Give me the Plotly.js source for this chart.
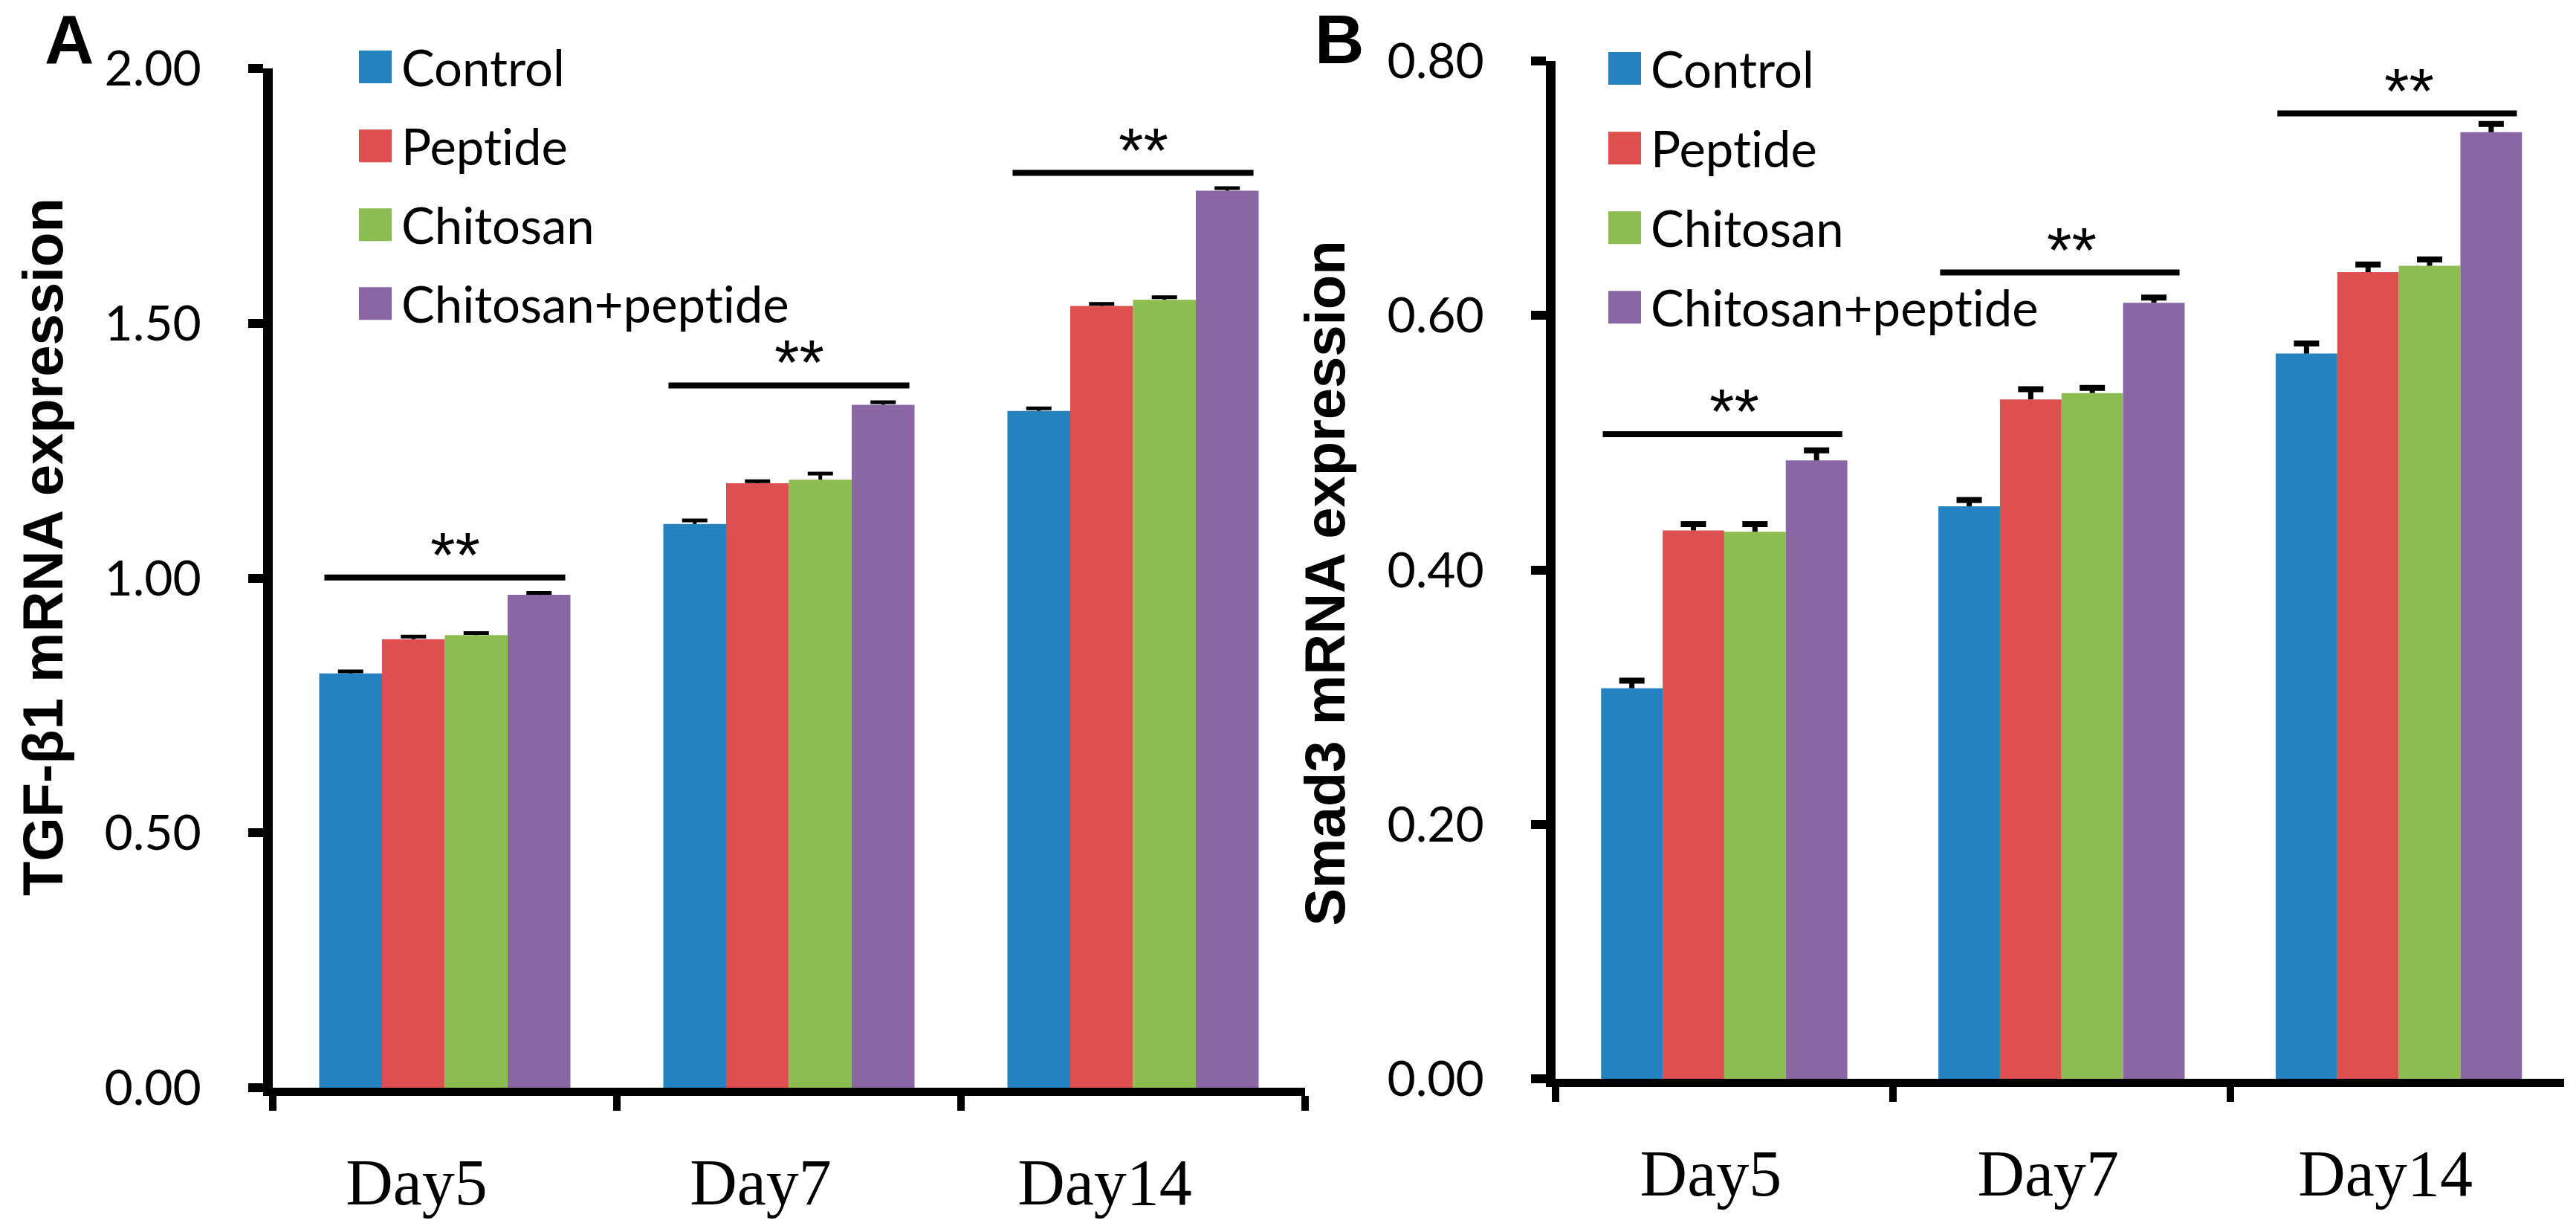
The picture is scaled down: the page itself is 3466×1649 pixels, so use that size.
<!DOCTYPE html>
<html>
<head>
<meta charset="utf-8">
<script src="https://cdn.plot.ly/plotly-3.0.1.min.js"></script>
<style>
html,body{margin:0;padding:0;background:#fff;}
#chart{width:3466px;height:1649px;}
svg text{font-variant-ligatures:none;font-feature-settings:"liga" 0,"clig" 0;}
</style>
</head>
<body>
<div id="chart"></div>
<script>
// ---------------- data ----------------
const days = ['Day5', 'Day7', 'Day14'];
const groups = ['Control', 'Peptide', 'Chitosan', 'Chitosan+peptide'];
const colors = ['#2482C0', '#DD504F', '#8DBC51', '#8B66A5'];

// Panel A: TGF-β1 mRNA expression
const tgfControl   = [0.813, 1.106, 1.328];
const tgfPeptide   = [0.880, 1.186, 1.534];
const tgfChitosan  = [0.888, 1.193, 1.546];
const tgfCombo     = [0.967, 1.340, 1.760];
const tgfControlErr  = [0.004, 0.007, 0.005];
const tgfPeptideErr  = [0.005, 0.004, 0.004];
const tgfChitosanErr = [0.004, 0.012, 0.005];
const tgfComboErr    = [0.004, 0.005, 0.005];
const tgfSigLevel    = [1.001, 1.378, 1.795];

// Panel B: Smad3 mRNA expression
const smadControl  = [0.307, 0.450, 0.570];
const smadPeptide  = [0.431, 0.534, 0.634];
const smadChitosan = [0.430, 0.539, 0.639];
const smadCombo    = [0.486, 0.610, 0.744];
const smadControlErr  = [0.006, 0.005, 0.008];
const smadPeptideErr  = [0.005, 0.008, 0.006];
const smadChitosanErr = [0.006, 0.004, 0.005];
const smadComboErr    = [0.008, 0.004, 0.0065];
const smadSigLevel    = [0.5066, 0.6337, 0.7588];

const sigLabel = '**';

// ---------------- build ----------------
const W = 3466, H = 1649;
const traces = [];
const shapes = [];
const annotations = [];

function addPanel(vals, errs, xa, ya, legendName, capThick, stemThick, capHalf, gid) {
  vals.forEach((v, i) => {
    traces.push({
      type: 'bar', x: days, y: v, name: groups[i],
      xaxis: xa, yaxis: ya, legend: legendName, legendgroup: gid + i,
      offsetgroup: String(i),
      marker: {color: colors[i], line: {width: 0}},
      error_y: {type: 'data', symmetric: false, array: errs[i],
                arrayminus: errs[i].map(() => 0), width: 0,
                thickness: stemThick, color: '#000'}
    });
  });
  vals.forEach((v, i) => {
    traces.push({
      type: 'bar', x: days, y: v.map((d, j) => d + errs[i][j]),
      xaxis: xa, yaxis: ya, showlegend: false, hoverinfo: 'skip',
      offsetgroup: String(i),
      marker: {color: 'rgba(0,0,0,0)', line: {width: 0}},
      error_y: {type: 'data', symmetric: true, array: v.map(() => 0),
                width: capHalf, thickness: capThick, color: '#000'}
    });
  });
}

addPanel([tgfControl, tgfPeptide, tgfChitosan, tgfCombo],
         [tgfControlErr, tgfPeptideErr, tgfChitosanErr, tgfComboErr],
         'x', 'y', 'legend', 5, 5, 17, 'a');
addPanel([smadControl, smadPeptide, smadChitosan, smadCombo],
         [smadControlErr, smadPeptideErr, smadChitosanErr, smadComboErr],
         'x2', 'y2', 'legend2', 8, 7, 17, 'b');

function addSig(levels, xref, yref, lo, hi, shiftX) {
  levels.forEach((lv, i) => {
    shapes.push({type: 'line', xref: xref, yref: yref,
                 x0: i + lo, x1: i + hi, y0: lv, y1: lv,
                 line: {color: '#000', width: 8}});
    annotations.push({xref: xref, yref: yref, x: i + shiftX, y: lv,
                      text: sigLabel, showarrow: false,
                      xanchor: 'center', yanchor: 'middle', yshift: 31,
                      font: {family: 'Liberation Sans', size: 86, color: '#000'}});
  });
}
addSig(tgfSigLevel, 'x', 'y', -0.35, 0.35, 0.03);
addSig(smadSigLevel, 'x2', 'y2', -0.36, 0.35, 0.03);

annotations.push({xref: 'paper', yref: 'paper', x: 93 / W, y: 1,
  text: 'A', showarrow: false, xanchor: 'center', yanchor: 'top',
  font: {family: 'Liberation Sans', size: 92, weight: 'bold', color: '#000'}});
annotations.push({xref: 'paper', yref: 'paper', x: 1802 / W, y: 1,
  text: 'B', showarrow: false, xanchor: 'center', yanchor: 'top',
  font: {family: 'Liberation Sans', size: 92, weight: 'bold', color: '#000'}});

const tickFontY = {family: 'Lato', size: 66, color: '#000'};
const tickFontX = {family: 'Liberation Serif', size: 88, color: '#000'};
const titleFont = {family: 'Liberation Sans', size: 76, weight: 'bold', color: '#000'};

function xAxis(dom, anchor, rangeEnd, shift) {
  return {domain: dom, anchor: anchor, type: 'category', range: [-0.5, rangeEnd],
    tickson: 'boundaries', ticks: 'outside', ticklen: 20, tickwidth: 10, tickcolor: '#000',
    showline: true, linecolor: '#000', linewidth: 11, showgrid: false, zeroline: false,
    tickfont: tickFontX, ticklabelstandoff: 40, ticklabelshift: shift, fixedrange: true};
}
function yAxis(dom, anchor, range, dtick, title, standoff) {
  return {domain: dom, anchor: anchor, range: range, dtick: dtick, tickformat: '.2f',
    ticks: 'outside', ticklen: 20, tickwidth: 12, tickcolor: '#000',
    showline: true, linecolor: '#000', linewidth: 13, showgrid: false, zeroline: false,
    tickfont: tickFontY, ticklabelstandoff: 50, fixedrange: true,
    title: {text: title, font: titleFont, standoff: standoff}};
}

const legendBase = {xanchor: 'left', yanchor: 'top', bgcolor: 'rgba(0,0,0,0)',
  font: {family: 'Lato', size: 67, color: '#000'}, itemwidth: 60,
  traceorder: 'grouped', itemclick: false, itemdoubleclick: false};

const layout = {
  width: W, height: H,
  margin: {l: 0, r: 0, t: 0, b: 0},
  paper_bgcolor: '#fff', plot_bgcolor: 'rgba(0,0,0,0)',
  barmode: 'group', bargap: 0.27, bargroupgap: 0,
  showlegend: true,
  xaxis: xAxis([367 / W, 1756 / W], 'y', 2.5, -38),
  yaxis: yAxis([(H - 1463) / H, (H - 92) / H], 'x', [0, 2], 0.5, 'TGF-β1 mRNA expression', 36),
  xaxis2: xAxis([2093 / W, 3450 / W], 'y2', 2.49, -18),
  yaxis2: yAxis([(H - 1451) / H, (H - 82) / H], 'x2', [0, 0.8], 0.2, 'Smad3 mRNA expression', 37),
  legend: Object.assign({}, legendBase, {x: 470 / W, y: 1 - 40 / H, tracegroupgap: 16}),
  legend2: Object.assign({}, legendBase, {x: 2151 / W, y: 1 - 42 / H, tracegroupgap: 17}),
  shapes: shapes,
  annotations: annotations
};

Plotly.newPlot('chart', traces, layout, {staticPlot: true, displayModeBar: false}).then(gd => {
  gd.querySelectorAll('.legendpoints path').forEach(p => {
    const t = p.getAttribute('transform') || '';
    p.setAttribute('transform', t + ' scale(3.67)');
  });
  const t1 = gd.querySelector('.g-ytitle');
  if (t1) t1.setAttribute('transform', 'translate(0,-42)');
  const t2 = gd.querySelector('.g-y2title');
  if (t2) t2.setAttribute('transform', 'translate(0,18)');
});
</script>
</body>
</html>
